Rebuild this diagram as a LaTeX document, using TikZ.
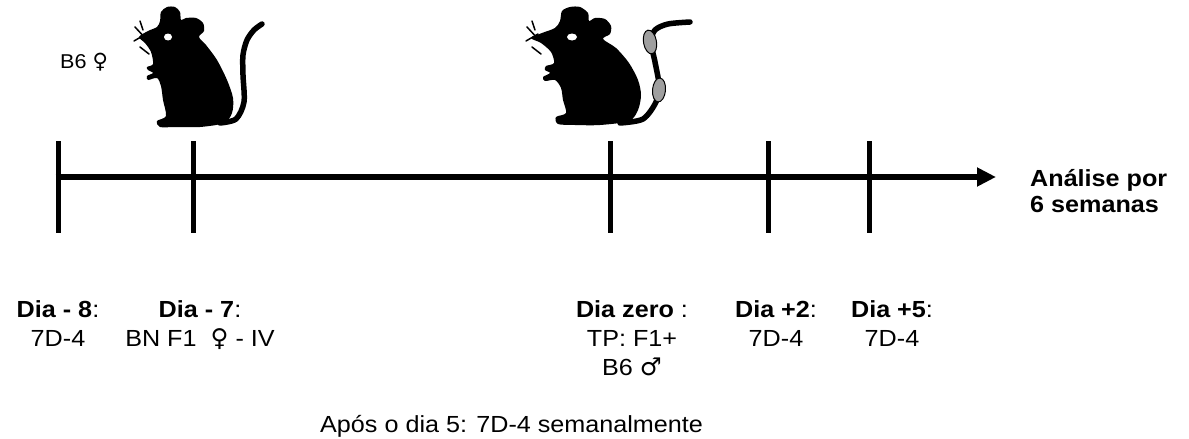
\documentclass[tikz,border=0pt]{standalone}
\usepackage{fontspec}
\setmainfont{Liberation Sans}[FakeStretch=1.08]
\newfontfamily\symfont{DejaVu Sans}[Scale=1.05]
\newcommand{\fem}{{\symfont ♀}}
\newcommand{\masc}{{\symfont ♂}}
\usetikzlibrary{arrows.meta}
\begin{document}
\begin{tikzpicture}[x=1pt,y=-1pt,
  axisline/.style={line width=6pt},
  tickline/.style={line width=5pt},
  lbl/.style={anchor=north, align=center, inner sep=0pt, font=\fontsize{23.3}{29}\selectfont},
  mousebody/.style={fill=black},
  mousetail/.style={draw=black, line width=5.5pt, line cap=round},
  whisker/.style={draw=black, line width=1.5pt, line cap=round},
  eyespot/.style={fill=white},
  band/.style={draw=black, line width=1pt, fill=gray!75}]

\useasboundingbox (0,0) rectangle (1189,439);

% time axis
\coordinate (start) at (55.5,177);
\coordinate (end) at (996,177);
\draw[axisline, -{Triangle[length=19pt,width=18pt]}] (start) -- (end);

% day ticks
\foreach \n/\x in {m8/58, m7/193, d0/610, p2/768, p5/869} {
  \coordinate (\n top) at (\x,141);
  \coordinate (\n bot) at (\x,233);
  \draw[tickline] (\n top) -- (\n bot);
}

% day labels
\node[lbl] (l8) at (58,300) {\textbf{Dia - 8}:\\7D-4};
\node[lbl] (l7) at (200,300) {\textbf{Dia - 7}:\\BN F1 \ \fem\ - IV};
\node[lbl] (l0) at (632,300) {\textbf{Dia zero} :\\TP: F1+\\B6 \masc};
\node[lbl] (l2) at (776,300) {\textbf{Dia +2}:\\7D-4};
\node[lbl] (l5) at (892,300) {\textbf{Dia +5}:\\7D-4};
\node[lbl, anchor=north west, align=left, font=\bfseries\fontsize{23.3}{26}\selectfont] (an) at (1030,169) {Análise por\\6 semanas};
\node[lbl, anchor=base west] (apos) at (320,432) {Após o dia 5: 7D-4 semanalmente};
\node[anchor=base west, inner sep=0pt, font=\fontsize{20}{24}\selectfont] (b6) at (60,68) {B6 \fem};

% first mouse (B6 female)
\draw[mousetail] plot[smooth] coordinates {(220,123) (236,119) (244,102) (243,75) (243,55) (247,40) (254,30) (262,24)};
\fill[mousebody] plot[smooth cycle] coordinates {
  (139,37) (148,31) (157,27) (160,21) (161,12) (167,7) (175,7) (180,12) (181,20)
  (186,18) (196,18) (203,23) (204,31) (199,37) (206,45) (217,60) (227,80) (233,98)
  (232,113) (224,123) (200,127) (175,127) (160,127) (157,121) (166,116) (163,100)
  (161,86) (157,78) (148,80) (147,76) (153,73) (148,70) (147,67) (153,64) (151,52) (145,43)};
\fill[eyespot] (168,37) ellipse [x radius=4, y radius=3.5];
\draw[whisker] (135,27) -- (147,40);
\draw[whisker] (134,41) -- (146,34);
\draw[whisker] (140,47) -- (149,54);
\draw[whisker] (140,21) -- (143,30);

% second mouse (B6 male with tail grafts)
\draw[mousetail] plot[smooth] coordinates {(620,123) (643,119) (656,102) (659,85) (655,62) (651,42) (655,30) (668,24) (690,22)};
\fill[mousebody] plot[smooth cycle] coordinates {
  (531,38) (542,33) (555,28) (560,21) (562,11) (570,7) (580,7) (588,13) (589,21)
  (595,18) (605,19) (611,26) (610,34) (603,39) (616,48) (629,63) (638,80) (641,95)
  (638,110) (629,121) (600,125) (575,125) (558,124) (556,117) (566,113) (563,100)
  (561,88) (555,80) (545,81) (543,77) (550,73) (545,70) (546,66) (554,63) (551,52) (541,43)};
\fill[eyespot] (572,37) ellipse [x radius=5, y radius=3.5];
\draw[whisker] (527,27) -- (539,40);
\draw[whisker] (526,41) -- (538,34);
\draw[whisker] (532,47) -- (541,54);
\draw[whisker] (532,21) -- (535,30);
\draw[band, rotate around={10:(650,42)}] (650,42) ellipse [x radius=6.5, y radius=12];
\draw[band, rotate around={-5:(659,90)}] (659,90) ellipse [x radius=6.5, y radius=12];
\end{tikzpicture}
\end{document}
